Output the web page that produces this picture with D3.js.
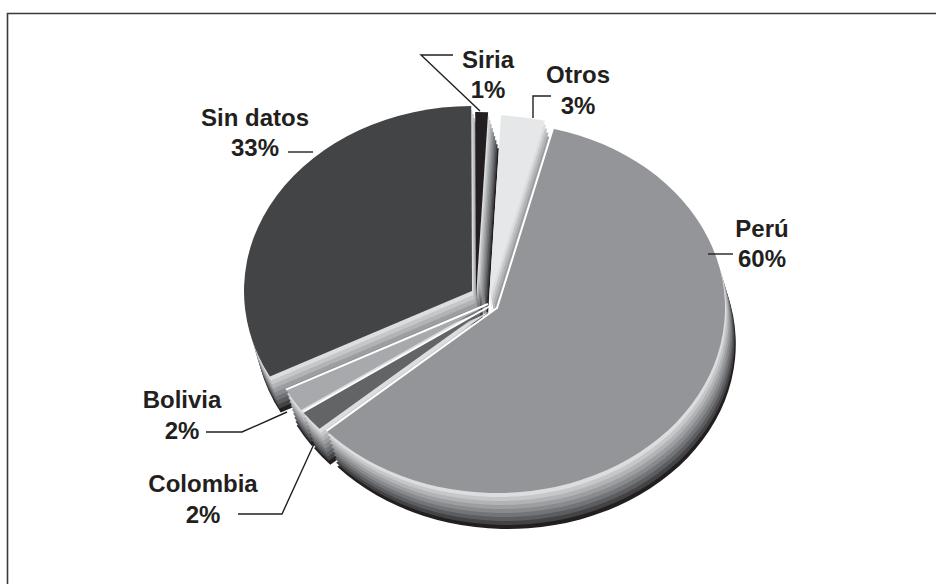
<!DOCTYPE html>
<html>
<head>
<meta charset="utf-8">
<script src="https://cdn.jsdelivr.net/npm/d3@7"></script>
<style>
  html, body { margin: 0; padding: 0; background: #fff; }
  svg { display: block; }
  text { font-family: "Liberation Sans", Arial, sans-serif; font-weight: bold; font-size: 24px; fill: #231f20; text-anchor: middle; }
</style>
</head>
<body>
<div id="chart"></div>
<script>
// values (the printed labels are rounded)
var categories = ["Perú", "Colombia", "Bolivia", "Sin datos", "Siria", "Otros"];
var shares = [59.5, 1.85, 2.05, 32.6, 0.9, 3.1];
var shareLabels = ["60%", "2%", "2%", "33%", "1%", "3%"];
var faceColors = ["#939598", "#636466", "#a7a9ac", "#434446", "#231f20", "#e6e7e8"];
var sideColors = ["#dcddde", "#c6c7c9", "#b1b3b5", "#9d9ea1", "#898a8d", "#737477", "#5c5d60", "#434245", "#231f20"];

// layout only: where each exploded slice sits, and the paint order (back to front)
var centers = [[497, 308], [490, 306], [488, 304], [472, 291], [476, 297], [489, 300]];
var paintOrder = [3, 4, 5, 2, 1, 0];
var labelPos = [[762, 237, 267], [203, 492, 523], [182, 408, 439], [255, 126, 156], [488, 68, 98], [578, 83, 114]];
var leaders = [
  [[708, 254], [733, 254]],
  [[238, 514], [282, 514], [314, 444]],
  [[206, 432], [242, 432], [287, 412]],
  [[288, 152], [313, 152]],
  [[453, 55], [421, 55], [480, 111]],
  [[551, 96], [533, 96], [533, 118]]
];

var width = 936,
  height = 584,
  rx = 228,
  ry = 185,
  stepX = 1.2,
  stepY = 4,
  firstAngle = 14.2 * Math.PI / 180;

var svg = d3.select("#chart").append("svg")
  .attr("width", width)
  .attr("height", height);

// frame runs off the right and bottom of the picture
svg.append("path")
  .attr("d", "M7.5," + height + "V13.5H" + width)
  .attr("fill", "none")
  .attr("stroke", "#3a3a3c")
  .attr("stroke-width", 1.6);

var pie = d3.pie()
  .sort(null)
  .startAngle(firstAngle)
  .endAngle(firstAngle + 2 * Math.PI);

var arcs = pie(shares);
var arc = d3.arc().innerRadius(0).outerRadius(rx);
var edge = d3.lineRadial();

function place(i, layer) {
  return "translate(" + (centers[i][0] + layer * stepX) + "," + (centers[i][1] + layer * stepY) + ")scale(1," + (ry / rx) + ")";
}

paintOrder.forEach(function(i) {
  var g = svg.append("g").attr("class", "slice");

  // extruded side: darkest layer first, the top face last
  d3.range(sideColors.length, 0, -1).forEach(function(layer) {
    g.append("path")
      .attr("d", arc(arcs[i]))
      .attr("transform", place(i, layer))
      .attr("fill", sideColors[layer - 1]);
  });

  g.append("path")
    .attr("d", arc(arcs[i]))
    .attr("transform", place(i, 0))
    .attr("fill", faceColors[i]);

  // white line along the radial edges of the front slices
  if (i < 3) {
    var pts = [[arcs[i].endAngle, rx], [0, 0]];
    if (i === 0) pts.push([arcs[i].startAngle, rx]);
    g.append("path")
      .attr("d", edge(pts))
      .attr("transform", place(i, 0))
      .attr("fill", "none")
      .attr("stroke", "#fff")
      .attr("stroke-width", 2)
      .attr("vector-effect", "non-scaling-stroke");
  }
});

svg.selectAll("path.leader")
  .data(leaders)
  .enter()
  .append("path")
  .attr("class", "leader")
  .attr("d", d3.line())
  .attr("fill", "none")
  .attr("stroke", "#231f20")
  .attr("stroke-width", 1.4);

categories.forEach(function(name, i) {
  var p = labelPos[i];
  svg.append("text").attr("x", p[0]).attr("y", p[1]).text(name);
  svg.append("text").attr("x", p[0]).attr("y", p[2]).text(shareLabels[i]);
});
</script>
</body>
</html>
